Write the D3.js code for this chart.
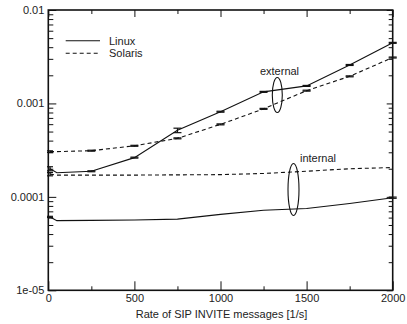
<!DOCTYPE html>
<html><head><meta charset="utf-8">
<script src="https://cdn.jsdelivr.net/npm/d3@7"></script>
<style>
html,body{margin:0;padding:0;background:#fff;}
text{font-family:"Liberation Sans",Arial,Helvetica,sans-serif;font-size:11px;fill:#222;}
</style></head>
<body><svg id="c" width="407" height="324"></svg>
<script>
const rates = [10, 50, 250, 500, 750, 1000, 1250, 1500, 1750, 2000];
const linuxExternal   = [2.0e-4, 1.81e-4, 1.88e-4, 2.63e-4, 5.15e-4, 8.15e-4, 1.33e-3, 1.54e-3, 2.58e-3, 4.45e-3];
const solarisExternal = [3.05e-4, 3.05e-4, 3.12e-4, 3.52e-4, 4.23e-4, 5.97e-4, 8.75e-4, 1.37e-3, 1.95e-3, 3.1e-3];
const solarisInternal = [1.75e-4, 1.71e-4, 1.71e-4, 1.71e-4, 1.72e-4, 1.73e-4, 1.78e-4, 1.88e-4, 2.0e-4, 2.06e-4];
const linuxInternal   = [6.1e-5, 5.57e-5, 5.6e-5, 5.65e-5, 5.78e-5, 6.5e-5, 7.2e-5, 7.5e-5, 8.5e-5, 9.8e-5];
// relative error half-widths
const linuxExternalErr   = [0.05, 0.0, 0.012, 0.012, 0.055, 0.012, 0.012, 0.012, 0.012, 0.012];
const solarisExternalErr = [0.02, 0.0, 0.012, 0.012, 0.012, 0.012, 0.012, 0.012, 0.012, 0.012];
const solarisInternalErr = [0.04, 0, 0, 0, 0, 0, 0, 0, 0, 0];
const linuxInternalErr   = [0.015, 0, 0, 0, 0, 0, 0, 0, 0, 0.015];
const xTicks = [0, 500, 1000, 1500, 2000];
const xMinor = [250, 750, 1250, 1750];
const yTicks = [1e-5, 1e-4, 1e-3, 1e-2];
const yTickLabels = ["1e-05", "0.0001", "0.001", "0.01"];
const seriesNames = ["Linux", "Solaris"];
const annotations = ["external", "internal"];

const L = 48.3, R = 392.7, T = 10, B = 290.3;
const svg = d3.select("#c");
const x = d3.scaleLinear().domain([0, 2000]).range([L, R]);
const y = d3.scaleLog().domain([1e-5, 1e-2]).range([B, T]);

const yMinor = [];
for (let e = -5; e < -2; e++) for (let k = 2; k <= 9; k++) yMinor.push(k * Math.pow(10, e));

function axisGroup(axis, tx, ty) {
  const g = svg.append("g").attr("transform", `translate(${tx},${ty})`).call(axis);
  g.select(".domain").remove();
  g.selectAll(".tick line").attr("stroke", "#111").attr("stroke-width", 1);
  g.selectAll(".tick text").attr("font-family", null).attr("font-size", null).attr("fill", null);
  return g;
}
// bottom
axisGroup(d3.axisBottom(x).tickValues(xTicks).tickSize(-9).tickPadding(4).tickFormat(d3.format("d")), 0, B);
axisGroup(d3.axisBottom(x).tickValues(xMinor).tickSize(-4).tickFormat(""), 0, B);
// top
axisGroup(d3.axisTop(x).tickValues(xTicks).tickSize(-7).tickFormat(""), 0, T);
axisGroup(d3.axisTop(x).tickValues(xMinor).tickSize(-4).tickFormat(""), 0, T);
// left
axisGroup(d3.axisLeft(y).tickValues(yTicks).tickSize(-8).tickPadding(4).tickFormat((d, i) => yTickLabels[i]), L, 0);
axisGroup(d3.axisLeft(y).tickValues(yMinor).tickSize(-5).tickFormat(""), L, 0);
// right
axisGroup(d3.axisRight(y).tickValues(yTicks).tickSize(-6).tickFormat(""), R, 0);
axisGroup(d3.axisRight(y).tickValues(yMinor).tickSize(-4).tickFormat(""), R, 0);

svg.append("rect").attr("x", L).attr("y", T).attr("width", R - L).attr("height", B - T)
  .attr("fill", "none").attr("stroke", "#111").attr("stroke-width", 1.6);

const line = d3.line().x((d, i) => x(rates[i])).y(d => y(d));
const series = [
  {v: linuxExternal, e: linuxExternalErr, dash: null},
  {v: solarisExternal, e: solarisExternalErr, dash: "4,3"},
  {v: solarisInternal, e: solarisInternalErr, dash: "4,3"},
  {v: linuxInternal, e: linuxInternalErr, dash: null}
];
series.forEach(s => {
  svg.append("path").datum(s.v).attr("d", line).attr("fill", "none")
    .attr("stroke", "#111").attr("stroke-width", 1.1).attr("stroke-dasharray", s.dash);
  s.v.forEach((v, i) => {
    if (!s.e[i]) return;
    const cx = x(rates[i]), lo = y(v * (1 - s.e[i])), hi = y(v * (1 + s.e[i]));
    const w = rates[i] < 30 ? 3 : 4;
    const g = svg.append("g").attr("stroke", "#111").attr("stroke-width", 1.2);
    g.append("line").attr("x1", cx).attr("x2", cx).attr("y1", lo).attr("y2", hi);
    g.append("line").attr("x1", cx - w).attr("x2", cx + w).attr("y1", lo).attr("y2", lo);
    g.append("line").attr("x1", cx - w).attr("x2", cx + w).attr("y1", hi).attr("y2", hi);
  });
});

// legend
const leg = svg.append("g");
seriesNames.forEach((n, i) => {
  const ly = 40.7 + i * 12.5;
  leg.append("line").attr("x1", 65.7).attr("x2", 100).attr("y1", ly).attr("y2", ly)
    .attr("stroke", "#111").attr("stroke-width", 1.1).attr("stroke-dasharray", i ? "4,3" : null);
  leg.append("text").attr("x", 109).attr("y", ly + 4).text(n);
});

// annotations
svg.append("text").attr("x", 279.5).attr("y", 75).attr("text-anchor", "middle").text(annotations[0]);
svg.append("ellipse").attr("cx", 277.3).attr("cy", 95).attr("rx", 5).attr("ry", 17.5)
  .attr("fill", "none").attr("stroke", "#111").attr("stroke-width", 1.1);
svg.append("text").attr("x", 318).attr("y", 162).attr("text-anchor", "middle").text(annotations[1]);
svg.append("ellipse").attr("cx", 293.5).attr("cy", 189.5).attr("rx", 5.5).attr("ry", 26)
  .attr("fill", "none").attr("stroke", "#111").attr("stroke-width", 1.1);

svg.append("text").attr("x", 221.5).attr("y", 317.5).attr("text-anchor", "middle")
  .text("Rate of SIP INVITE messages [1/s]");
</script></body></html>
